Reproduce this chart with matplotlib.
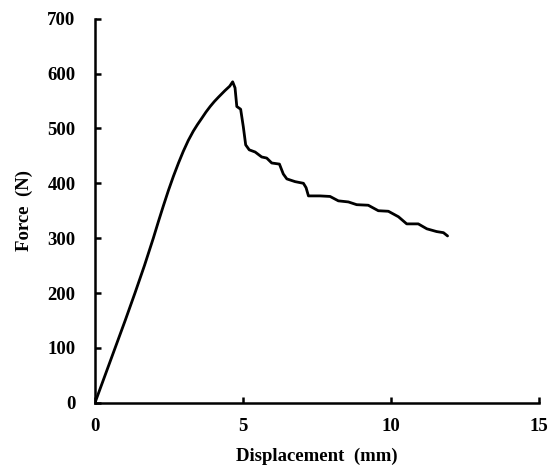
import numpy as np
import matplotlib
matplotlib.use("Agg")
import matplotlib.pyplot as plt

# load-displacement record of the specimen
disp = [0, 0.34, 0.68, 1.02, 1.35, 1.67, 1.97, 2.14, 2.31, 2.48, 2.65,
        2.82, 2.98, 3.15, 3.32, 3.46, 3.60, 3.75, 3.89, 4.03, 4.17, 4.39,
        4.55, 4.65, 4.73, 4.79, 4.92, 5.01, 5.09, 5.21, 5.41, 5.63, 5.80,
        5.97, 6.23, 6.36, 6.48, 6.76, 7.04, 7.13, 7.21, 7.60, 7.94, 8.22,
        8.56, 8.84, 9.23, 9.57, 9.91, 10.25, 10.53, 10.92, 11.21, 11.54,
        11.77, 11.91]
force = [0, 50, 100, 150, 200, 250, 300, 330, 359, 387, 413,
         437, 458, 478, 495, 507, 518, 530, 540, 549, 557, 569,
         577, 585, 574, 540, 535, 503, 470, 461, 457, 448, 446,
         437, 435, 417, 408, 403, 400, 392, 377, 377, 376, 368,
         366, 361, 360, 350, 349, 339, 326, 326, 317, 312,
         310, 304]

plt.rcParams['font.family'] = ['Liberation Serif', 'DejaVu Serif']
plt.rcParams['font.weight'] = 'bold'

fig = plt.figure(figsize=(5.54, 4.68), dpi=100)
ax = fig.add_axes([0.1715, 0.1395, 0.8015, 0.8205])

ax.plot(disp, force, color='black', lw=2.0, solid_joinstyle='round',
        solid_capstyle='round')

ax.set_xlim(0, 15)
ax.set_ylim(0, 700)
ax.set_xticks([0, 5, 10, 15])
ax.set_yticks(np.arange(0, 701, 100))

for side in ['top', 'right']:
    ax.spines[side].set_visible(False)
for side in ['left', 'bottom']:
    ax.spines[side].set_linewidth(1.8)

ax.tick_params(axis='both', direction='in', length=4, width=1.8,
               labelsize=13.5)
ax.tick_params(axis='x', pad=11)
ax.tick_params(axis='y', pad=14)

ax.set_xlabel("Displacement  (mm)", fontsize=13.5, fontweight='bold', labelpad=9)
ax.set_ylabel("Force  (N)", fontsize=13.5, fontweight='bold', labelpad=10)

fig.savefig("out.png", dpi=100)
